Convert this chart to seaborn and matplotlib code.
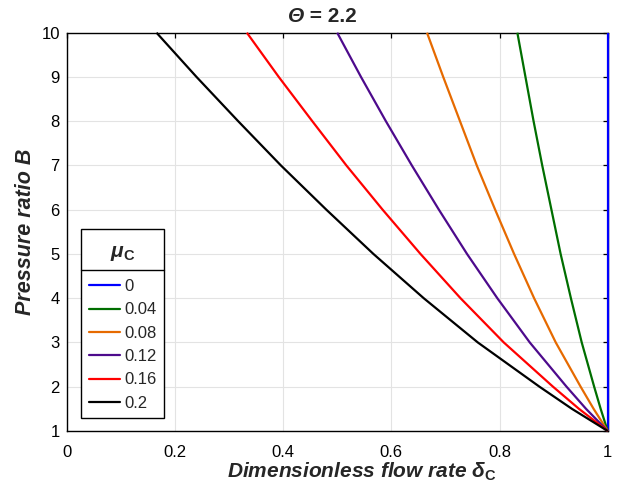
import matplotlib
matplotlib.use("Agg")
import matplotlib.pyplot as plt
from matplotlib.lines import Line2D
import numpy as np
import pandas as pd
import seaborn as sns

# Pressure ratio B (y axis)
pressure_ratio = [1, 1.5, 2, 3, 4, 5, 6, 7, 8, 9, 10]

# Dimensionless flow rate delta_C for each friction coefficient mu_C
flow_mu_0 = [1.000, 1.000, 1.000, 1.000, 1.000, 1.000, 1.000, 1.000, 1.000, 1.000, 1.000]
flow_mu_004 = [1.000, 0.987, 0.975, 0.952, 0.932, 0.913, 0.896, 0.879, 0.863, 0.848, 0.833]
flow_mu_008 = [1.000, 0.974, 0.950, 0.904, 0.864, 0.827, 0.792, 0.758, 0.727, 0.696, 0.666]
flow_mu_012 = [1.000, 0.960, 0.924, 0.856, 0.796, 0.740, 0.688, 0.638, 0.590, 0.544, 0.500]
flow_mu_016 = [1.000, 0.947, 0.899, 0.808, 0.728, 0.654, 0.584, 0.517, 0.454, 0.392, 0.333]
flow_mu_020 = [1.000, 0.934, 0.874, 0.760, 0.660, 0.567, 0.480, 0.396, 0.317, 0.240, 0.166]

mu_labels = ["0", "0.04", "0.08", "0.12", "0.16", "0.2"]
series = [flow_mu_0, flow_mu_004, flow_mu_008, flow_mu_012, flow_mu_016, flow_mu_020]
line_colors = ["#0000ff", "#006e00", "#e66a00", "#4d0a8c", "#ff0000", "#000000"]

x_ticks = [0, 0.2, 0.4, 0.6, 0.8, 1]
x_tick_labels = ["0", "0.2", "0.4", "0.6", "0.8", "1"]
y_ticks = [1, 2, 3, 4, 5, 6, 7, 8, 9, 10]

frames = []
for lab, vals in zip(mu_labels, series):
    frames.append(pd.DataFrame({"delta": vals, "B": pressure_ratio, "mu": lab}))
df = pd.concat(frames, ignore_index=True)

sns.set_theme(style="whitegrid")
plt.rcParams["font.family"] = ["Liberation Sans", "DejaVu Sans"]
plt.rcParams["mathtext.fontset"] = "custom"
plt.rcParams["mathtext.it"] = "Liberation Sans:italic:bold"
plt.rcParams["mathtext.rm"] = "Liberation Sans:bold"
plt.rcParams["mathtext.bf"] = "Liberation Sans:bold"

fig = plt.figure(figsize=(6.17, 4.99), dpi=100)
ax = fig.add_axes([66.7 / 617, 1 - 431 / 499, 541 / 617, 398.3 / 499])

palette = dict(zip(mu_labels, line_colors))
sns.lineplot(data=df, x="delta", y="B", hue="mu", hue_order=mu_labels,
             palette=palette, estimator=None, sort=False, linewidth=1.6,
             ax=ax, legend=False)
for ln in ax.get_lines():
    ln.set_clip_on(False)
    ln.set_zorder(5)
    ln.set_solid_capstyle("butt")
    ln.set_solid_joinstyle("round")

ax.set_xlim(0, 1)
ax.set_ylim(1, 10)
ax.set_xticks(x_ticks)
ax.set_xticklabels(x_tick_labels)
ax.set_yticks(y_ticks)
ax.set_facecolor("white")
ax.grid(True, color="#e3e3e3", linewidth=0.8)
for sp in ax.spines.values():
    sp.set_color("black")
    sp.set_linewidth(1.0)
    sp.set_visible(True)
ax.tick_params(axis="both", which="both", direction="in", length=3.6, width=0.9,
               colors="black", labelsize=12, top=True, right=True,
               labeltop=False, labelright=False)
ax.tick_params(axis="x", pad=10)
ax.tick_params(axis="y", pad=5)

ax.set_xlabel(r"Dimensionless flow rate $\delta_{\mathbf{C}}$", fontsize=15,
              fontweight="bold", style="italic")
ax.set_ylabel("Pressure ratio B", fontsize=15.5, fontweight="bold", style="italic")
ax.xaxis.set_label_coords(0.546, -0.074)
ax.yaxis.set_label_coords(-0.056, 0.5)

# title: italic Theta followed by upright text
split_x = 304 / 617
title_y = 1 - 16 / 499
fig.text(split_x, title_y, "\u0398", ha="right", va="center", fontsize=15,
         fontweight="bold", style="italic")
fig.text(split_x, title_y, " = 2.2", ha="left", va="center", fontsize=15,
         fontweight="bold")

# legend with a blank title block; the heading and divider are placed below
handles = [Line2D([0], [0], color=c, linewidth=1.6) for c in line_colors]
leg = ax.legend(handles, mu_labels, title=" ", loc="lower left",
                bbox_to_anchor=(14.3 / 541, 12.7 / 398.3), borderaxespad=0,
                fontsize=12, title_fontsize=15, frameon=True, fancybox=False,
                edgecolor="black", framealpha=1, handlelength=1.9,
                handletextpad=0.25, labelspacing=0.50, borderpad=0.45)
leg.get_frame().set_linewidth(1.0)
leg.set_zorder(10)
leg._legend_box.sep = 17.0

fig.canvas.draw()
renderer = fig.canvas.get_renderer()
fb = leg.get_frame().get_window_extent(renderer)
W, H = fig.get_size_inches() * fig.dpi
top = fb.y1
y_sep = top - 41.4
fig.add_artist(Line2D([fb.x0 / W, fb.x1 / W], [y_sep / H, y_sep / H],
                      transform=fig.transFigure, color="black", linewidth=1.0,
                      zorder=11))
fig.text((fb.x0 + fb.x1) / 2 / W, (top - 28.2) / H, r"$\mu_{\mathbf{C}}$",
         ha="center", va="baseline", fontsize=15, zorder=12)

fig.savefig("out.png", dpi=100)
